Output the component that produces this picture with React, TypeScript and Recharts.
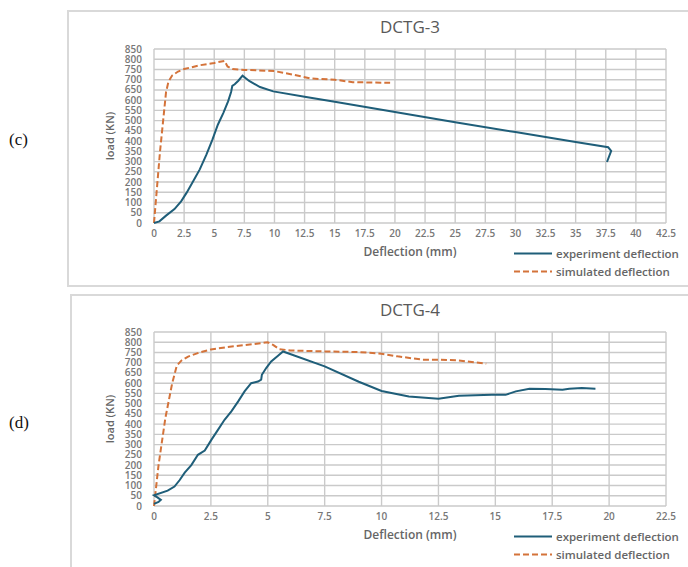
import React from 'react';
import { LineChart, Line, XAxis, YAxis } from 'recharts';

// DCTG-3 load–deflection curves (mm, kN)
const dctg3ExpDeflection = [0, 0.45, 1.0, 1.7, 2.25, 2.7, 3.25, 3.8, 4.35, 4.85, 5.3, 5.75, 6.15, 6.4, 6.5, 6.7, 7.0, 7.35, 7.9, 8.8, 9.9, 12.5, 15, 20, 25, 30, 35, 37.7, 37.95, 37.6];
const dctg3ExpLoad = [0, 8, 36, 68, 106, 147, 204, 262, 334, 407, 480, 537, 594, 640, 670, 678, 695, 720, 694, 664, 643, 617, 592, 542, 492, 444, 396, 370, 352, 298];
const dctg3SimDeflection = [0, 0.5, 1.0, 1.2, 1.5, 2.0, 2.5, 3.75, 5.0, 5.85, 6.1, 6.5, 7.5, 10, 11.5, 13.0, 15.0, 16.5, 19.6];
const dctg3SimLoad = [0, 350, 640, 690, 720, 740, 752, 770, 782, 792, 765, 752, 748, 742, 725, 706, 700, 688, 685];

// DCTG-4 load–deflection curves (mm, kN)
const dctg4ExpDeflection = [0, 0.2, 0.3, 0.15, 0.0, 0.6, 0.9, 1.13, 1.35, 1.64, 1.93, 2.23, 2.52, 2.81, 3.1, 3.4, 3.7, 3.98, 4.27, 4.57, 4.71, 4.74, 4.93, 5.15, 5.45, 5.67, 7.5, 9.0, 10.0, 11.2, 12.5, 13.4, 14.85, 15.45, 15.9, 16.5, 17.2, 17.95, 18.25, 18.8, 19.4];
const dctg4ExpLoad = [10, 20, 30, 42, 52, 75, 95, 127, 163, 200, 250, 271, 323, 372, 421, 462, 511, 560, 600, 608, 617, 641, 674, 706, 734, 755, 682, 607, 562, 535, 524, 538, 543, 543, 560, 573, 571, 568, 573, 576, 573];
const dctg4SimDeflection = [0, 0.2, 0.5, 0.8, 1.0, 1.2, 1.5, 2.0, 2.5, 3.5, 4.3, 5.0, 5.25, 5.5, 6.0, 7.5, 9.0, 10.0, 10.7, 11.8, 12.5, 13.4, 14.6];
const dctg4SimLoad = [0, 200, 430, 600, 685, 710, 730, 750, 765, 780, 790, 800, 786, 766, 760, 755, 752, 744, 731, 715, 715, 711, 695];

const loadTicks = [0, 50, 100, 150, 200, 250, 300, 350, 400, 450, 500, 550, 600, 650, 700, 750, 800, 850];
const dctg3DeflectionTicks = [0, 2.5, 5, 7.5, 10, 12.5, 15, 17.5, 20, 22.5, 25, 27.5, 30, 32.5, 35, 37.5, 40, 42.5];
const dctg4DeflectionTicks = [0, 2.5, 5, 7.5, 10, 12.5, 15, 17.5, 20, 22.5];

const EXP_COLOR = '#1f5e79';
const SIM_COLOR = '#d4733a';
const GRID_COLOR = '#cacaca';
const FONT = '"Open Sans", Arial, sans-serif';
const LOAD_MAX = 850;
const PLOT_LEFT = 154;
const PLOT_RIGHT = 666;

const zip = (xs: number[], ys: number[]) => xs.map((x, i) => ({ x, y: ys[i] }));

// light grid behind the plot: one line per tick on both axes
const GridLayer: React.FC<{ top: number; bottom: number; xTicks: number[] }> = ({ top, bottom, xTicks }) => {
  const xMax = xTicks[xTicks.length - 1];
  const w = PLOT_RIGHT - PLOT_LEFT;
  const h = bottom - top;
  return (
    <svg width={688} height={bottom + 2} style={{ position: 'absolute', left: 0, top: 0 }}>
      {xTicks.map((t) => {
        const x = PLOT_LEFT + (w * t) / xMax;
        return <line key={`v${t}`} x1={x} x2={x} y1={top} y2={bottom} stroke={GRID_COLOR} strokeWidth={1.4} />;
      })}
      {loadTicks.map((t) => {
        const y = top + h * (1 - t / LOAD_MAX);
        return <line key={`h${t}`} x1={PLOT_LEFT} x2={PLOT_RIGHT} y1={y} y2={y} stroke={GRID_COLOR} strokeWidth={1.4} />;
      })}
    </svg>
  );
};

interface PanelProps {
  title: string;
  tag: string;
  top: number;
  frameLeft: number;
  frameTop: number;
  frameHeight: number;
  height: number;
  plotTop: number;
  plotBottom: number;
  xTicks: number[];
  expX: number[];
  expY: number[];
  simX: number[];
  simY: number[];
}

const DeflectionPanel: React.FC<PanelProps> = ({
  title, tag, top, frameLeft, frameTop, frameHeight, height, plotTop, plotBottom, xTicks, expX, expY, simX, simY,
}) => {
  const xMax = xTicks[xTicks.length - 1];
  const midX = (PLOT_LEFT + PLOT_RIGHT) / 2;
  const midY = top + (plotTop + plotBottom) / 2;
  const text: React.CSSProperties = { position: 'absolute', fontFamily: FONT, whiteSpace: 'nowrap' };
  const tickStyle = { fill: '#777', fontSize: 10, fontFamily: FONT, fontWeight: 600 };
  const expData = zip(expX, expY);
  const simData = zip(simX, simY);
  return (
    <>
      <div style={{ position: 'absolute', left: frameLeft, top: frameTop, width: 700, height: frameHeight, border: '2px solid #d9d9d9', boxSizing: 'border-box' }} />
      <div style={{ position: 'absolute', left: 9, top: midY + 5 - 11, fontFamily: 'serif', fontSize: 17, color: '#111' }}>{tag}</div>
      <div style={{ position: 'absolute', left: 0, top, width: 688, height }}>
        <GridLayer top={plotTop} bottom={plotBottom} xTicks={xTicks} />
        <div style={{ position: 'absolute', left: 0, top: 0 }}>
          <LineChart data={expData} width={688} height={height} margin={{ top: plotTop, right: 688 - PLOT_RIGHT, left: PLOT_LEFT - 40, bottom: height - plotBottom - 20 }}>
            <XAxis
              type="number"
              dataKey="x"
              domain={[0, xMax]}
              ticks={xTicks}
              interval={0}
              height={20}
              axisLine={false}
              tickLine={false}
              tickSize={0}
              tickMargin={7}
              tick={tickStyle}
            />
            <YAxis
              type="number"
              domain={[0, LOAD_MAX]}
              ticks={loadTicks}
              interval={0}
              width={40}
              axisLine={false}
              tickLine={false}
              tickSize={0}
              tickMargin={12}
              tick={tickStyle}
            />
            <Line data={simData} dataKey="y" type="linear" stroke={SIM_COLOR} strokeWidth={2} strokeDasharray="6 3" dot={false} isAnimationActive={false} />
            <Line dataKey="y" type="linear" stroke={EXP_COLOR} strokeWidth={2} dot={false} isAnimationActive={false} />
          </LineChart>
        </div>
      </div>
      <div style={{ ...text, left: midX, top: top + plotTop - 23, transform: 'translate(-50%, -50%)', fontSize: 17, color: '#595959' }}>{title}</div>
      <div style={{ ...text, left: 109, top: midY, transform: 'translate(-50%, -50%) rotate(-90deg)', fontSize: 11, fontWeight: 600, color: '#666' }}>load (KN)</div>
      <div style={{ ...text, left: midX, top: top + plotBottom + 28, transform: 'translate(-50%, -50%)', fontSize: 12, fontWeight: 600, color: '#666' }}>Deflection (mm)</div>
      {[
        { label: 'experiment deflection', color: EXP_COLOR, dash: undefined, dy: 30 },
        { label: 'simulated deflection', color: SIM_COLOR, dash: '6 3', dy: 48 },
      ].map((item) => (
        <div key={item.label} style={{ ...text, left: 514, top: top + plotBottom + item.dy, transform: 'translateY(-50%)', display: 'flex', alignItems: 'center', fontSize: 11.5, fontWeight: 600, color: '#666' }}>
          <svg width={40} height={4} style={{ marginRight: 2 }}>
            <line x1={0} y1={2} x2={38} y2={2} stroke={item.color} strokeWidth={2} strokeDasharray={item.dash} />
          </svg>
          {item.label}
        </div>
      ))}
    </>
  );
};

export default function App() {
  return (
    <div style={{ position: 'absolute', left: 0, top: 0, width: 688, height: 567, overflow: 'hidden', background: '#fff' }}>
      <DeflectionPanel
        title="DCTG-3"
        tag="(c)"
        top={0}
        frameLeft={67}
        frameTop={10}
        frameHeight={277}
        height={287}
        plotTop={49}
        plotBottom={223}
        xTicks={dctg3DeflectionTicks}
        expX={dctg3ExpDeflection}
        expY={dctg3ExpLoad}
        simX={dctg3SimDeflection}
        simY={dctg3SimLoad}
      />
      <DeflectionPanel
        title="DCTG-4"
        tag="(d)"
        top={287}
        frameLeft={70}
        frameTop={294}
        frameHeight={300}
        height={280}
        plotTop={45}
        plotBottom={219}
        xTicks={dctg4DeflectionTicks}
        expX={dctg4ExpDeflection}
        expY={dctg4ExpLoad}
        simX={dctg4SimDeflection}
        simY={dctg4SimLoad}
      />
    </div>
  );
}
